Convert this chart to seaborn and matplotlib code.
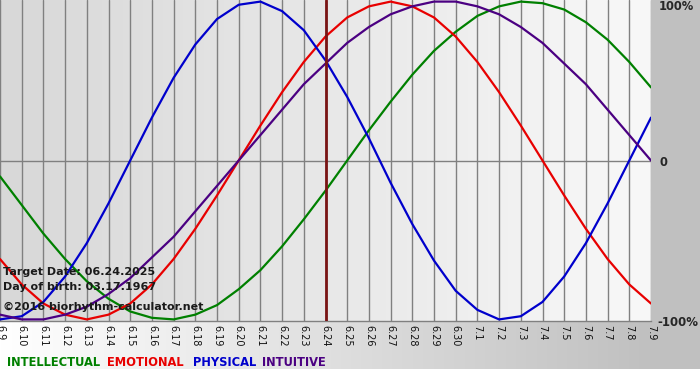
import numpy as np
import pandas as pd
import seaborn as sns
import matplotlib.pyplot as plt
from matplotlib.colors import LinearSegmentedColormap

# days shown on the x axis
dates = ['6.9', '6.10', '6.11', '6.12', '6.13', '6.14', '6.15', '6.16', '6.17', '6.18',
         '6.19', '6.20', '6.21', '6.22', '6.23', '6.24', '6.25', '6.26', '6.27', '6.28',
         '6.29', '6.30', '7.1', '7.2', '7.3', '7.4', '7.5', '7.6', '7.7', '7.8', '7.9']
target_date = '6.24'

# cycle values (-1 .. 1)
intellectual = [-0.10, -0.28, -0.46, -0.62, -0.76, -0.87, -0.95, -0.99, -1.00, -0.97,
                -0.91, -0.81, -0.69, -0.54, -0.37, -0.19, 0.00, 0.19, 0.37, 0.54,
                0.69, 0.81, 0.91, 0.97, 1.00, 0.99, 0.95, 0.87, 0.76, 0.62, 0.46]
emotional = [-0.62, -0.78, -0.90, -0.97, -1.00, -0.97, -0.90, -0.78, -0.62, -0.43,
             -0.22, 0.00, 0.22, 0.43, 0.62, 0.78, 0.90, 0.97, 1.00, 0.97,
             0.90, 0.78, 0.62, 0.43, 0.22, 0.00, -0.22, -0.43, -0.62, -0.78, -0.90]
physical = [-1.00, -0.98, -0.89, -0.73, -0.52, -0.27, 0.00, 0.27, 0.52, 0.73,
            0.89, 0.98, 1.00, 0.94, 0.82, 0.63, 0.40, 0.14, -0.14, -0.40,
            -0.63, -0.82, -0.94, -1.00, -0.98, -0.89, -0.73, -0.52, -0.27, 0.00, 0.27]
intuitive = [-0.97, -1.00, -1.00, -0.97, -0.92, -0.84, -0.74, -0.61, -0.48, -0.32,
             -0.16, 0.00, 0.16, 0.32, 0.48, 0.61, 0.74, 0.84, 0.92, 0.97,
             1.00, 1.00, 0.97, 0.92, 0.84, 0.74, 0.61, 0.48, 0.32, 0.16, 0.00]

cycles = ['INTELLECTUAL', 'EMOTIONAL', 'PHYSICAL', 'INTUITIVE']
colors = {'INTELLECTUAL': '#008000', 'EMOTIONAL': '#e80000',
          'PHYSICAL': '#0000cc', 'INTUITIVE': '#4b0082'}

df = pd.DataFrame({'day': range(len(dates)), 'INTELLECTUAL': intellectual,
                   'EMOTIONAL': emotional, 'PHYSICAL': physical, 'INTUITIVE': intuitive})
df = df.melt(id_vars='day', var_name='cycle', value_name='value')

sns.set_style('white')
plt.rcParams['font.family'] = ['DejaVu Sans']

fig = plt.figure(figsize=(7, 3.8), dpi=100)

# page background: white -> grey, white strip at the bottom
bg = fig.add_axes([0, 0, 1, 1], zorder=0)
page_cmap = LinearSegmentedColormap.from_list('page', ['#ffffff', '#c0c0c0'])
bg.imshow(np.linspace(0, 1, 256).reshape(1, -1), cmap=page_cmap, aspect='auto',
          extent=[0, 651 / 700, 0, 1])
bg.axvspan(651 / 700, 1, color='#c0c0c0', lw=0)
bg.axhspan(0, 11 / 380, color='#ffffff', lw=0)
bg.set_xlim(0, 1)
bg.set_ylim(0, 1)
bg.axis('off')

ax = fig.add_axes([0, 59 / 380, 651 / 700, 321 / 380], zorder=1)
plot_cmap = LinearSegmentedColormap.from_list('plot', ['#d8d8d8', '#f8f8f8'])
ax.imshow(np.linspace(0, 1, 256).reshape(1, -1), cmap=plot_cmap, aspect='auto',
          extent=[0, 1, 0, 1], transform=ax.transAxes, zorder=0)

for x in range(len(dates)):
    ax.axvline(x, color='#808080', lw=1, zorder=1)
ax.axhline(0, color='#808080', lw=1, zorder=1)

sns.lineplot(data=df, x='day', y='value', hue='cycle', hue_order=cycles,
             palette=colors, linewidth=1.6, legend=False, ax=ax, zorder=3)

ax.axvline(dates.index(target_date), color='#7a1515', lw=2, zorder=4)

ax.set_xlim(0, len(dates) - 1)
ax.set_ylim(-1.01, 1.01)
ax.set_xticks(range(len(dates)))
ax.set_xticklabels(dates, rotation=270, fontsize=7, color='#111111')
ax.tick_params(axis='x', length=0, pad=3)
ax.set_yticks([])
ax.set_xlabel('')
ax.set_ylabel('')
for side in ['top', 'left', 'right']:
    ax.spines[side].set_visible(False)
ax.spines['bottom'].set_color('#808080')
ax.spines['bottom'].set_linewidth(1)

# info text in the lower left corner
info = ['Target Date: 06.24.2025', 'Day of birth: 03.17.1967',
        '©2016 biorhythm-calculator.net']
info_y = [272, 287, 307]
for txt, y in zip(info, info_y):
    ax.text(3 / 651, 1 - y / 321, txt, transform=ax.transAxes, fontsize=8,
            weight='bold', color='#1a1a1a', va='center', zorder=5)

# percentage labels on the right
fig.text(659 / 700, 1 - 7 / 380, '100%', fontsize=8.3, weight='bold', va='center', zorder=5)
fig.text(659 / 700, 1 - 162 / 380, '0', fontsize=8.3, weight='bold', va='center', zorder=5)
fig.text(657 / 700, 1 - 322 / 380, '-100%', fontsize=8.5, weight='bold', va='center', zorder=5)

# colour legend at the bottom
legend_x = [7, 107, 193, 262]
for name, x in zip(cycles, legend_x):
    fig.text(x / 700, 1 - 362 / 380, name, color=colors[name], fontsize=8.3,
             weight='bold', va='center', zorder=5)

fig.savefig('out.png', dpi=100)
